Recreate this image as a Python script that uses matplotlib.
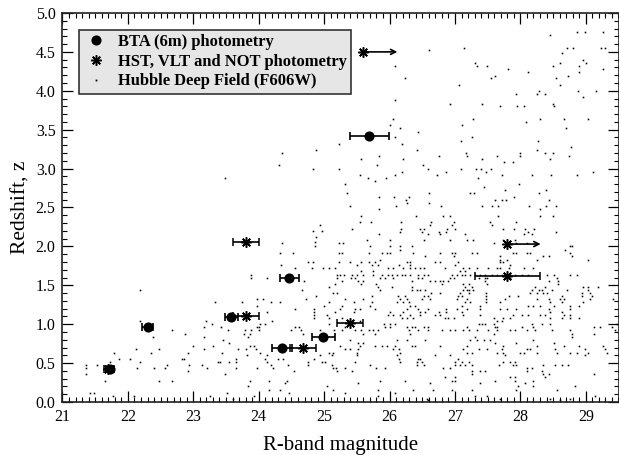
import matplotlib
matplotlib.use('Agg')
import matplotlib.pyplot as plt
from matplotlib.lines import Line2D
from matplotlib.ticker import MultipleLocator, FormatStrFormatter

# BTA points: R mag, z, mag error
bta_mag = [21.72, 22.30, 23.58, 24.47, 24.36, 24.99, 25.69]
bta_z = [0.43, 0.96, 1.09, 1.60, 0.70, 0.83, 3.42]
bta_err = [0.06, 0.085, 0.10, 0.145, 0.15, 0.17, 0.30]

# HST, VLT, NOT points
hst_mag = [21.70, 23.80, 23.80, 24.68, 25.40, 27.80]
hst_z = [0.43, 2.06, 1.11, 0.69, 1.01, 1.62]
hst_err = [0.06, 0.20, 0.20, 0.20, 0.20, 0.50]

# lower limits, drawn as arrows
lim_mag = [25.60, 27.80]
lim_z = [4.50, 2.03]
lim_end = [26.12, 28.31]

hdf_z = [4.76, 4.72, 4.55, 4.52, 4.48, 4.40, 4.36, 4.32, 4.28, 4.24, 4.19, 4.16, 4.07, 4.00, 3.96, 3.92, 3.88,
         3.83, 3.80, 3.64, 3.60, 3.56, 3.52, 3.47, 3.40, 3.36, 3.32, 3.28, 3.24, 3.20, 3.16, 3.12, 3.08, 3.04,
         3.00, 2.96, 2.92, 2.88, 2.84, 2.80, 2.76, 2.72, 2.68, 2.64, 2.60, 2.56, 2.52, 2.48,
         2.39, 2.32, 2.28, 2.27, 2.23, 2.20, 2.19, 2.16, 2.12, 2.08, 2.06, 2.05, 2.04, 2.00, 1.96, 1.92, 1.88,
         1.83, 1.80, 1.76, 1.72, 1.68, 1.63, 1.59, 1.56, 1.52, 1.48, 1.44, 1.40, 1.36, 1.32, 1.28, 1.24, 1.20,
         1.16, 1.12, 1.08, 1.04, 1.00, 0.96, 0.92, 0.88, 0.84, 0.80, 0.76, 0.72, 0.68, 0.63, 0.60, 0.55, 0.51,
         0.48, 0.44, 0.40, 0.36, 0.32, 0.27, 0.24, 0.20, 0.16, 0.12, 0.08, 0.04, 0.02]
hdf_mag = [
    [28.86, 28.99, 29.27],
    [28.45],
    [27.14, 28.71, 28.80, 29.24, 29.30],
    [26.61],
    [28.63],
    [28.95],
    [27.30, 28.61, 29.00],
    [26.08, 27.33, 27.49, 28.50, 28.89],
    [27.81, 29.27],
    [28.12, 28.89],
    [27.61, 28.73],
    [26.23, 27.55, 28.54],
    [27.06, 28.61],
    [28.29, 28.88, 29.16],
    [27.94, 28.26, 28.38],
    [28.95],
    [26.09],
    [26.93, 27.41, 28.50],
    [27.69, 27.95, 28.05, 28.52],
    [26.05, 27.27, 28.30, 28.67, 29.03],
    [28.08],
    [26.01, 27.11],
    [26.16, 28.69],
    [26.43],
    [26.08, 27.26],
    [27.09, 28.27],
    [25.23, 26.19],
    [28.78],
    [24.88, 26.42, 28.26],
    [24.35, 27.17, 28.00, 28.37, 28.50],
    [25.84, 26.75, 27.19, 27.64, 27.99, 28.74],
    [25.56, 26.21, 27.41, 28.45],
    [27.75, 27.88],
    [24.31, 25.81, 26.51],
    [24.83, 25.23, 26.59, 27.09, 27.32, 27.40, 27.55],
    [26.19, 26.86, 27.48, 29.11],
    [25.55, 26.09, 26.73, 27.72, 28.17, 28.47, 28.87],
    [23.48, 25.67, 25.95, 27.35],
    [25.77],
    [25.32, 27.98],
    [27.44],
    [27.77, 28.39],
    [25.35, 26.60, 27.23, 27.29, 28.29],
    [25.84, 26.07, 26.29, 27.91],
    [26.25, 27.61, 27.72, 27.78, 28.44],
    [26.27, 26.60],
    [25.40, 26.10, 26.79, 27.41, 27.57, 27.66, 28.13, 28.39, 28.54],
    [25.84, 28.30],
    [25.57, 26.41, 26.81, 26.93, 27.66, 28.30, 28.50],
    [25.55, 25.71, 26.17, 26.63, 26.98, 27.54, 27.93],
    [24.94],
    [26.62, 26.95, 27.56],
    [25.42, 26.18, 26.46, 26.52, 26.88, 27.00, 27.74, 27.90, 28.07, 28.21],
    [24.83, 24.97],
    [26.16, 26.50, 26.76, 26.86, 28.12, 28.55],
    [25.84, 26.59, 26.77, 27.16, 28.05, 28.17],
    [24.87],
    [25.65, 26.01, 26.52, 26.93, 27.18, 27.28, 27.74, 27.92],
    [24.86],
    [25.29, 27.59, 27.94, 28.10],
    [24.35, 25.22],
    [24.86, 25.70, 26.01, 26.16, 26.34, 28.76, 28.79],
    [26.16, 28.68],
    [24.33, 24.52, 25.23, 25.27, 25.68, 25.88, 25.96, 26.01, 26.36, 26.77, 26.95, 27.00, 27.26, 27.34, 27.89,
     27.94, 28.10, 28.15, 28.76],
    [26.54, 26.98, 27.69, 28.35, 28.43, 28.79],
    [25.85, 27.69, 27.79, 28.25, 29.04],
    [24.75, 24.83, 25.22, 25.40, 25.57, 25.68, 25.78, 26.26, 26.32, 26.70, 26.77, 27.05, 27.69, 27.74],
    [24.34, 25.50, 25.73, 25.83, 26.14, 26.31, 27.00, 27.84],
    [24.55, 24.81, 24.98, 25.08, 25.17, 25.98, 26.06, 26.21, 26.31, 26.39, 26.47, 26.52, 26.85, 27.13, 27.21,
     27.33, 27.51, 27.64, 27.69, 27.82, 28.05, 28.20],
    [25.57, 25.75, 27.08, 27.15],
    [23.88, 25.20, 25.24, 25.30, 25.42, 25.50, 25.60, 25.75, 25.88, 25.98, 26.03, 26.11, 26.19, 26.24, 26.31,
     26.44, 26.52, 26.59, 26.95, 27.03, 27.10, 27.15, 27.23, 27.31, 27.38, 27.46, 27.56, 27.64, 27.72, 27.84,
     27.92, 28.02, 28.12, 28.40, 28.51, 28.76, 28.87],
    [23.88, 24.12, 25.19, 25.41, 25.47, 25.85, 25.93, 26.06, 26.44, 26.49, 26.92, 26.98, 27.36, 27.46, 27.49,
     27.84, 28.56],
    [24.69, 25.27, 25.52, 25.60, 26.34, 26.62, 26.70, 26.77, 26.82, 26.90, 27.46, 28.43, 28.58],
    [25.16, 25.57, 25.80, 26.80, 27.13, 27.21, 27.49, 28.58],
    [25.07, 25.83, 26.03, 26.34, 27.15, 27.26, 28.23, 28.38, 28.96, 29.04, 29.19],
    [22.18, 24.66, 25.85, 26.34, 26.42, 26.47, 26.54, 27.13, 27.18, 27.21, 27.28, 28.17, 28.28, 28.33, 28.48,
     28.71, 29.04],
    [25.14, 25.19, 26.64, 26.77, 27.08, 27.21, 27.48, 28.15, 28.25, 28.35, 28.40, 28.94, 29.07],
    [24.88, 25.73, 26.13, 26.24, 26.52, 26.59, 27.05, 27.10, 27.48, 27.82, 27.97, 28.63, 28.94, 29.09],
    [23.98, 24.06, 24.73, 25.32, 25.60, 26.16, 26.26, 26.49, 26.62, 27.03, 27.18, 27.48, 27.77, 28.25, 28.43,
     28.61, 28.66, 29.07, 29.42],
    [23.33, 23.75, 24.19, 24.32, 25.08, 25.45, 25.73, 26.11, 26.21, 26.29, 27.15, 27.23, 27.48, 27.69, 28.45,
     28.63, 28.96],
    [23.98, 25.00, 25.27, 25.70, 26.31, 26.39, 27.10, 27.38, 28.12, 28.20, 28.30, 28.51, 28.76, 28.89],
    [24.55, 24.85, 25.24, 25.47, 25.55, 25.78, 26.26, 26.44, 26.59, 26.87, 27.03, 27.18, 27.38, 27.69, 27.79,
     27.94, 28.43, 28.76],
    [24.13, 24.85, 25.16, 25.45, 26.01, 26.21, 26.47, 26.54, 26.75, 26.87, 27.10, 28.45, 28.63],
    [24.85, 25.05, 25.98, 26.06, 26.16, 26.31, 26.47, 26.70, 26.77, 27.13, 27.38, 27.89, 28.02, 28.12, 28.30,
     28.38, 28.66, 28.76],
    [24.85, 25.07, 25.27, 26.19, 26.26, 26.36, 26.85, 26.90, 26.98, 27.59, 27.74, 27.84, 28.45, 28.63, 28.76,
     28.89],
    [22.19, 23.19, 24.20, 25.55, 27.64, 27.72],
    [23.29, 24.02, 24.09, 25.08, 25.91, 26.01, 26.08, 27.36, 27.41, 27.46, 27.59, 28.17, 28.33, 28.45, 29.47],
    [23.16, 23.43, 23.97, 24.01, 24.55, 24.61, 25.32, 25.93, 26.01, 26.26, 26.34, 26.39, 26.52, 26.59, 27.18,
     27.61, 27.64, 28.02, 28.20, 29.12, 29.22, 29.40],
    [22.68, 23.53, 23.79, 23.88, 24.00, 24.49, 24.64, 24.93, 25.15, 25.27, 25.47, 25.57, 25.68, 25.75, 25.83,
     26.29, 26.44, 26.59, 26.80, 26.93, 27.00, 27.13, 27.21, 27.33, 27.51, 27.64, 27.84, 27.92, 28.10, 28.23,
     28.48, 28.76, 29.45],
    [22.87, 23.78, 23.87, 24.67, 25.60, 25.78, 26.31, 27.59, 28.79, 29.12],
    [22.39, 23.16, 23.84, 27.31, 28.79],
    [23.46, 25.40, 26.11, 26.26, 26.54, 27.23, 27.33, 27.44, 27.54, 28.20],
    [23.54, 25.52, 25.60, 27.61, 27.94, 28.51],
    [22.99, 23.30, 23.87, 23.92, 25.24, 25.55, 25.78, 25.88, 25.96, 26.08, 26.34, 26.39, 26.77, 27.18, 27.74,
     28.25, 28.66, 28.89, 29.27],
    [22.12, 22.48, 23.16, 23.68, 23.80, 23.96, 25.32, 25.40, 25.52, 26.06, 26.14, 27.13, 27.36, 27.49, 27.72,
     28.10, 28.15, 28.53, 28.99, 29.30],
    [21.79, 22.36, 22.92, 23.44, 24.02, 25.08, 25.14, 25.50, 26.16, 27.18, 27.26, 27.64, 27.74, 28.00, 28.05,
     28.25, 28.56, 28.76, 28.86, 29.04, 29.32],
    [23.82, 24.13, 24.94, 25.12, 25.50, 26.11, 26.70, 26.93, 27.77, 28.99],
    [21.86, 22.03, 22.82, 22.86, 23.66, 24.10, 24.29, 24.37, 24.84, 26.14, 26.44, 26.47, 27.05],
    [21.72, 22.19, 23.37, 23.41, 23.55, 23.65, 24.12, 24.76, 24.96, 25.01, 25.47, 26.16, 26.42, 26.49, 27.00,
     27.10, 27.21, 27.74, 27.84, 27.92],
    [21.36, 21.53, 22.60, 22.94, 23.14, 24.18, 24.45, 24.76, 25.12, 25.70, 26.42, 26.52, 27.00, 27.08, 27.15,
     27.26, 27.67, 27.89, 27.94, 28.35, 28.53, 28.63, 28.73],
    [21.36, 22.14, 22.40, 22.57, 23.21, 23.65, 23.98, 24.22, 25.13, 25.18, 25.32, 25.80, 25.93, 26.82, 26.93,
     28.10, 28.17],
    [22.92, 24.54, 25.20, 25.42, 27.26, 27.38, 27.46, 28.10, 28.33],
    [21.36, 23.48, 27.26, 28.35, 28.43, 29.12],
    [26.85, 27.00, 27.84, 27.92, 28.38],
    [21.65, 22.48, 22.68, 23.86, 24.16, 24.43, 25.85, 26.24, 26.95, 27.00, 27.61, 27.92, 28.20],
    [24.40, 25.52, 26.62, 27.38, 28.07],
    [23.83, 25.05, 27.97, 28.20, 28.84],
    [24.15, 24.33, 25.14, 25.83, 26.36, 26.67, 26.95, 27.26, 27.94, 28.56],
    [21.42, 21.48, 23.51, 24.47, 25.32, 26.08],
    [21.77, 22.09, 23.25, 23.92, 25.83, 27.31, 27.49, 29.14],
    [23.60, 26.57, 27.69, 28.45, 28.76],
    [26.59, 28.61],
]

field_x = []
field_y = []
for z, row in zip(hdf_z, hdf_mag):
    for m in row:
        field_x.append(m)
        field_y.append(z)

plt.rcParams['font.family'] = ['Liberation Serif', 'DejaVu Serif']

fig = plt.figure(figsize=(6.19, 4.55), dpi=100)
ax = fig.add_axes([62.5 / 619, 1 - 402 / 455, 556 / 619, 389 / 455])

ax.plot(field_x, field_y, ls='none', marker='s', ms=1.15, mew=0, color='k', zorder=2)

ax.errorbar(bta_mag, bta_z, xerr=bta_err, ls='none', marker='o', ms=6.3, color='k',
            elinewidth=1.2, capsize=3.2, capthick=1.2, zorder=4)
ax.errorbar(hst_mag, hst_z, xerr=hst_err, ls='none', marker=(8, 2, 0), ms=7.5, mew=1.1, color='k',
            elinewidth=1.2, capsize=3.2, capthick=1.2, zorder=4)

ax.plot(lim_mag, lim_z, ls='none', marker=(8, 2, 0), ms=7.5, mew=1.1, color='k', zorder=4)
for m, z, e in zip(lim_mag, lim_z, lim_end):
    ax.annotate('', xy=(e, z), xytext=(m, z),
                arrowprops=dict(arrowstyle='->', color='k', lw=1.2, shrinkA=0, shrinkB=0,
                                mutation_scale=9))

ax.set_xlim(21, 29.5)
ax.set_ylim(0, 5)
ax.xaxis.set_major_locator(MultipleLocator(1))
ax.xaxis.set_minor_locator(MultipleLocator(0.1))
ax.yaxis.set_major_locator(MultipleLocator(0.5))
ax.yaxis.set_minor_locator(MultipleLocator(0.1))
ax.yaxis.set_major_formatter(FormatStrFormatter('%.1f'))
ax.tick_params(which='major', direction='in', top=True, right=True, length=8, width=0.9, labelsize=11.5, pad=5)
ax.tick_params(which='minor', direction='in', top=True, right=True, length=3.6, width=0.8)
for s in ax.spines.values():
    s.set_linewidth(1.2)
    s.set_color('#222222')

ax.set_xlabel('R-band magnitude', fontsize=15, labelpad=8)
ax.set_ylabel('Redshift, z', fontsize=15.5, labelpad=4)

handles = [
    Line2D([], [], ls='none', marker='o', ms=6.3, color='k'),
    Line2D([], [], ls='none', marker=(8, 2, 0), ms=7.5, mew=1.1, color='k'),
    Line2D([], [], ls='none', marker='s', ms=1.3, mew=0, color='k'),
]
labels = ['BTA (6m) photometry', 'HST, VLT and NOT photometry', 'Hubble Deep Field (F606W)']
leg = ax.legend(handles, labels, loc='upper left', bbox_to_anchor=(16.5 / 556, 1 - 17 / 389),
                borderaxespad=0, fancybox=False, framealpha=1, facecolor='#e6e6e6', edgecolor='#333333',
                prop={'size': 11.9, 'weight': 'bold'}, labelspacing=0.22, handletextpad=0.6,
                handlelength=1.5, borderpad=0.25)
leg.get_frame().set_linewidth(1.2)
leg.set_zorder(5)

fig.savefig('out.png', dpi=100)
